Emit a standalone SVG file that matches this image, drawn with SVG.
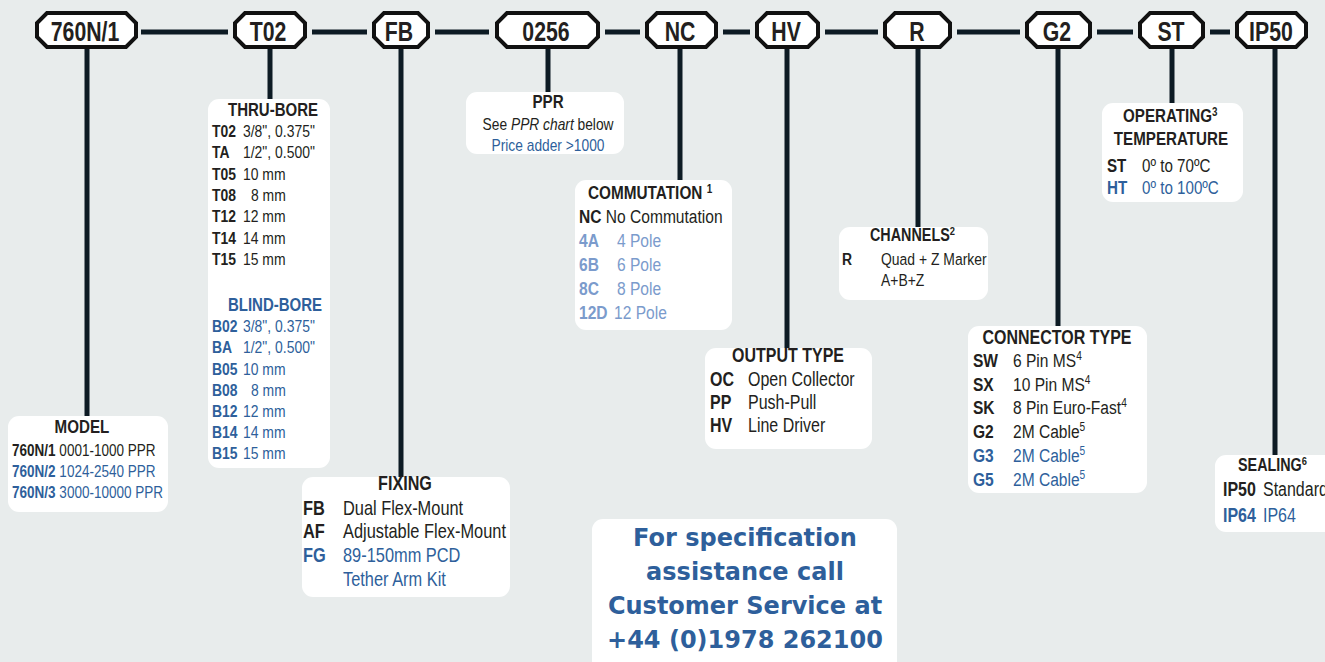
<svg xmlns="http://www.w3.org/2000/svg" width="1325" height="662" viewBox="0 0 1325 662">
<style>
text{font-family:"Liberation Sans",Arial,sans-serif;fill:#231f20;transform-box:fill-box;transform-origin:left center;transform:scaleX(0.82)}
.oct{fill:#fff;stroke:#111;stroke-width:4;stroke-linejoin:miter}
.nt{font-weight:bold;font-size:28px;text-anchor:middle;transform-origin:center;transform:scaleX(0.76)}
.box{fill:#fff}
.b{font-weight:bold}
.c{text-anchor:middle;transform-origin:center}
.bl{fill:#2e5f9b}
.lb{fill:#7b9bcc}
.sup{font-size:0.65em}
.con line{stroke:#0d1b24;stroke-width:5}
.call{font-family:"DejaVu Sans",Verdana,sans-serif;font-weight:bold;font-size:24px;fill:#2e5f9b;text-anchor:middle;transform:none}
</style>
<rect width="1325" height="662" fill="#e8ecec"/>
<g class="con" id="connectors">
<line x1="141" y1="32" x2="228" y2="32"/>
<line x1="312" y1="32" x2="367" y2="32"/>
<line x1="435" y1="32" x2="489" y2="32"/>
<line x1="605" y1="32" x2="640" y2="32"/>
<line x1="723" y1="32" x2="750" y2="32"/>
<line x1="825" y1="32" x2="878" y2="32"/>
<line x1="957" y1="32" x2="1020" y2="32"/>
<line x1="1097" y1="32" x2="1133" y2="32"/>
<line x1="1210" y1="32" x2="1230" y2="32"/>
<line x1="87" y1="49" x2="87" y2="417"/>
<line x1="270" y1="49" x2="270" y2="100"/>
<line x1="401" y1="49" x2="401" y2="478"/>
<line x1="548" y1="49" x2="548" y2="93"/>
<line x1="680" y1="49" x2="680" y2="181"/>
<line x1="787" y1="49" x2="787" y2="350"/>
<line x1="918" y1="49" x2="918" y2="228"/>
<line x1="1058" y1="49" x2="1058" y2="327"/>
<line x1="1172" y1="49" x2="1172" y2="104"/>
<line x1="1275" y1="49" x2="1275" y2="456"/>
</g>
<g id="n-760N1"><polygon class="oct" points="47,13 126,13 136,23 136,37 126,47 47,47 37,37 37,23"/><text class="nt" x="85" y="41.5">760N/1</text></g>
<g id="n-T02"><polygon class="oct" points="245,13 295,13 305,23 305,37 295,47 245,47 235,37 235,23"/><text class="nt" x="268" y="41.5">T02</text></g>
<g id="n-FB"><polygon class="oct" points="384,13 418,13 428,23 428,37 418,47 384,47 374,37 374,23"/><text class="nt" x="399" y="41.5">FB</text></g>
<g id="n-0256"><polygon class="oct" points="507,13 588,13 598,23 598,37 588,47 507,47 497,37 497,23"/><text class="nt" x="546" y="41.5">0256</text></g>
<g id="n-NC"><polygon class="oct" points="657,13 706,13 716,23 716,37 706,47 657,47 647,37 647,23"/><text class="nt" x="680" y="41.5">NC</text></g>
<g id="n-HV"><polygon class="oct" points="767,13 808,13 818,23 818,37 808,47 767,47 757,37 757,23"/><text class="nt" x="786" y="41.5">HV</text></g>
<g id="n-R"><polygon class="oct" points="895,13 940,13 950,23 950,37 940,47 895,47 885,37 885,23"/><text class="nt" x="917" y="41.5">R</text></g>
<g id="n-G2"><polygon class="oct" points="1037,13 1080,13 1090,23 1090,37 1080,47 1037,47 1027,37 1027,23"/><text class="nt" x="1057" y="41.5">G2</text></g>
<g id="n-ST"><polygon class="oct" points="1150,13 1193,13 1203,23 1203,37 1193,47 1150,47 1140,37 1140,23"/><text class="nt" x="1171" y="41.5">ST</text></g>
<g id="n-IP50"><polygon class="oct" points="1247,13 1296,13 1306,23 1306,37 1296,47 1247,47 1237,37 1237,23"/><text class="nt" x="1271" y="41.5">IP50</text></g>

<g id="model" font-size="16.5">
<rect class="box" x="8" y="416" width="160" height="96" rx="11"/>
<text class="b c" x="82" y="433" font-size="18.5">MODEL</text>
<text x="12" y="456"><tspan class="b">760N/1</tspan> 0001-1000 PPR</text>
<text x="12" y="477" class="bl"><tspan class="b bl">760N/2</tspan> 1024-2540 PPR</text>
<text x="12" y="498" class="bl"><tspan class="b bl">760N/3</tspan> 3000-10000 PPR</text>
</g>

<g id="bore" font-size="17">
<rect class="box" x="208" y="99" width="122" height="369" rx="11"/>
<text class="b c" x="273" y="116" font-size="18.3">THRU-BORE</text>
<text class="b" x="212" y="137">T02</text><text x="243" y="137">3/8", 0.375"</text>
<text class="b" x="212" y="158">TA</text><text x="243" y="158">1/2", 0.500"</text>
<text class="b" x="212" y="180">T05</text><text x="243" y="180">10 mm</text>
<text class="b" x="212" y="201">T08</text><text x="251" y="201">8 mm</text>
<text class="b" x="212" y="222">T12</text><text x="243" y="222">12 mm</text>
<text class="b" x="212" y="244">T14</text><text x="243" y="244">14 mm</text>
<text class="b" x="212" y="265">T15</text><text x="243" y="265">15 mm</text>
<text class="b c bl" x="275" y="311" font-size="18.3">BLIND-BORE</text>
<text class="b bl" x="212" y="332">B02</text><text class="bl" x="243" y="332">3/8", 0.375"</text>
<text class="b bl" x="212" y="353">BA</text><text class="bl" x="243" y="353">1/2", 0.500"</text>
<text class="b bl" x="212" y="375">B05</text><text class="bl" x="243" y="375">10 mm</text>
<text class="b bl" x="212" y="396">B08</text><text class="bl" x="251" y="396">8 mm</text>
<text class="b bl" x="212" y="417">B12</text><text class="bl" x="243" y="417">12 mm</text>
<text class="b bl" x="212" y="438">B14</text><text class="bl" x="243" y="438">14 mm</text>
<text class="b bl" x="212" y="459">B15</text><text class="bl" x="243" y="459">15 mm</text>
</g>

<g id="ppr" font-size="16.8">
<rect class="box" x="466" y="92" width="158" height="62" rx="11"/>
<text class="b c" x="548" y="108" font-size="18.5">PPR</text>
<text class="c" x="548" y="130">See <tspan font-style="italic">PPR chart</tspan> below</text>
<text class="c bl" x="548" y="151">Price adder &gt;1000</text>
</g>

<g id="commutation" font-size="19">
<rect class="box" x="575" y="180" width="157" height="150" rx="11"/>
<text class="b" x="588" y="199" font-size="18.7">COMMUTATION <tspan class="sup" dy="-6">1</tspan></text>
<text x="579" y="223"><tspan class="b">NC</tspan> No Commutation</text>
<text class="b lb" x="579" y="247">4A</text><text class="lb" x="617" y="247">4 Pole</text>
<text class="b lb" x="579" y="271">6B</text><text class="lb" x="617" y="271">6 Pole</text>
<text class="b lb" x="579" y="295">8C</text><text class="lb" x="617" y="295">8 Pole</text>
<text class="b lb" x="579" y="319">12D</text><text class="lb" x="614" y="319">12 Pole</text>
</g>

<g id="channels" font-size="17">
<rect class="box" x="839" y="227" width="149" height="73" rx="11"/>
<text class="b" x="870" y="241" font-size="17.5">CHANNELS<tspan class="sup" dy="-6">2</tspan></text>
<text class="b" x="842" y="265">R</text><text x="881" y="265">Quad + Z Marker</text>
<text x="881" y="286">A+B+Z</text>
</g>

<g id="temperature" font-size="18.5">
<rect class="box" x="1102" y="103" width="141" height="99" rx="11"/>
<text class="b" x="1123" y="122">OPERATING<tspan class="sup" dy="-6">3</tspan></text>
<text class="b c" x="1171" y="145">TEMPERATURE</text>
<text class="b" x="1107" y="172">ST</text><text x="1142" y="172">0º to 70ºC</text>
<text class="b bl" x="1107" y="194">HT</text><text class="bl" x="1142" y="194">0º to 100ºC</text>
</g>

<g id="output" font-size="19.5">
<rect class="box" x="705" y="348" width="167" height="101" rx="11"/>
<text class="b c" x="788" y="362">OUTPUT TYPE</text>
<text class="b" x="710" y="386">OC</text><text x="748" y="386">Open Collector</text>
<text class="b" x="710" y="409">PP</text><text x="748" y="409">Push-Pull</text>
<text class="b" x="710" y="432">HV</text><text x="748" y="432">Line Driver</text>
</g>

<g id="connector" font-size="19">
<rect class="box" x="968" y="326" width="179" height="167" rx="11"/>
<text class="b c" x="1057" y="344" font-size="19.5">CONNECTOR TYPE</text>
<text class="b" x="973" y="367">SW</text><text x="1013" y="367">6 Pin MS<tspan class="sup" dy="-7">4</tspan></text>
<text class="b" x="973" y="391">SX</text><text x="1013" y="391">10 Pin MS<tspan class="sup" dy="-7">4</tspan></text>
<text class="b" x="973" y="414">SK</text><text x="1013" y="414">8 Pin Euro-Fast<tspan class="sup" dy="-7">4</tspan></text>
<text class="b" x="973" y="438">G2</text><text x="1013" y="438">2M Cable<tspan class="sup" dy="-7">5</tspan></text>
<text class="b bl" x="973" y="462">G3</text><text class="bl" x="1013" y="462">2M Cable<tspan class="sup" dy="-7">5</tspan></text>
<text class="b bl" x="973" y="486">G5</text><text class="bl" x="1013" y="486">2M Cable<tspan class="sup" dy="-7">5</tspan></text>
</g>

<g id="sealing" font-size="19.5">
<rect class="box" x="1215" y="455" width="130" height="77" rx="11"/>
<text class="b" x="1238" y="471" font-size="17.5">SEALING<tspan class="sup" dy="-6">6</tspan></text>
<text class="b" x="1223" y="496">IP50</text><text x="1263" y="496">Standard</text>
<text class="b bl" x="1223" y="522">IP64</text><text class="bl" x="1263" y="522">IP64</text>
</g>

<g id="fixing" font-size="20">
<rect class="box" x="302" y="477" width="208" height="120" rx="11"/>
<text class="b c" x="405" y="490" font-size="19.7">FIXING</text>
<text class="b" x="303" y="515">FB</text><text x="343" y="515">Dual Flex-Mount</text>
<text class="b" x="303" y="538">AF</text><text x="343" y="538">Adjustable Flex-Mount</text>
<text class="b bl" x="303" y="562">FG</text><text class="bl" x="343" y="562">89-150mm PCD</text>
<text class="bl" x="343" y="586">Tether Arm Kit</text>
</g>

<g id="contact">
<rect class="box" x="592" y="519" width="305" height="170" rx="11"/>
<text class="call" x="745" y="546">For specification</text>
<text class="call" x="745" y="580">assistance call</text>
<text class="call" x="745" y="614">Customer Service at</text>
<text class="call" x="745" y="648">+44 (0)1978 262100</text>
</g>
</svg>
